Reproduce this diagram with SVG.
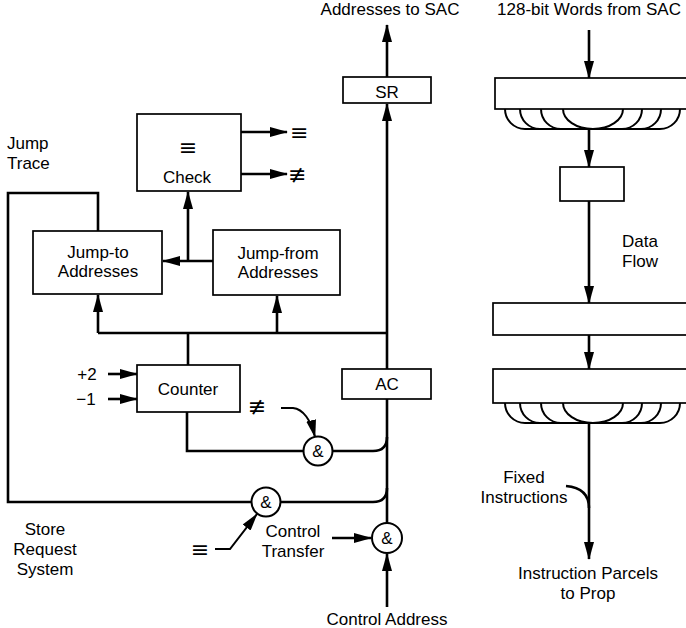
<svg xmlns="http://www.w3.org/2000/svg" width="686" height="628" viewBox="0 0 686 628">
  <style>
    .box { fill: #fff; stroke: #000; stroke-width: 1.7; }
    .wire { fill: none; stroke: #000; stroke-width: 2.6; }
    .thin { fill: none; stroke: #000; stroke-width: 2; }
    .arr { marker-end: url(#ah); }
    .gate { fill: #fff; stroke: #000; stroke-width: 2; }
    text { font-family: "Liberation Sans", Arial, Helvetica, sans-serif; font-size: 17px; fill: #000; }
    .c { text-anchor: middle; }
    .sym { font-family: "DejaVu Sans", sans-serif; font-size: 22px; }
    .amp { font-size: 17px; text-anchor: middle; }
  </style>
  <defs>
    <marker id="ah" markerUnits="userSpaceOnUse" markerWidth="18" markerHeight="10" refX="17" refY="5" orient="auto">
      <path d="M0,0 L18,5 L0,10 z" fill="#000"/>
    </marker>
  </defs>

  <!-- connectors -->
  <g id="connectors">
    <!-- main address path -->
    <line class="wire arr" x1="387" y1="77" x2="387" y2="25"/>
    <line class="wire arr" x1="387" y1="370" x2="387" y2="104"/>
    <line class="wire" x1="387" y1="399" x2="387" y2="523"/>
    <line class="wire arr" x1="387" y1="607" x2="387" y2="554"/>
    <line class="wire arr" x1="332" y1="538" x2="371" y2="538"/>
    <!-- branch to address stacks -->
    <polyline class="wire" points="387,333 98,333"/>
    <line class="wire arr" x1="98" y1="333" x2="98" y2="295"/>
    <line class="wire arr" x1="277" y1="333" x2="277" y2="296"/>
    <line class="wire" x1="188" y1="333" x2="188" y2="365"/>
    <!-- compare path -->
    <line class="wire arr" x1="213" y1="261" x2="163" y2="261"/>
    <line class="wire arr" x1="188" y1="261" x2="188" y2="192"/>
    <line class="wire arr" x1="241" y1="132" x2="287" y2="132"/>
    <line class="wire arr" x1="241" y1="174" x2="287" y2="174"/>
    <!-- counter inputs -->
    <line class="wire arr" x1="108" y1="374" x2="137" y2="374"/>
    <line class="wire arr" x1="108" y1="399" x2="137" y2="399"/>
    <!-- counter output through gate -->
    <polyline class="wire" points="187,412 187,451 303,451"/>
    <path class="wire" d="M332.5,451 H373 Q387,451 387,437"/>
    <path class="thin arr" d="M281,408 H293 C303,409 311,420 315,437"/>
    <!-- jump trace loop -->
    <polyline class="wire" points="98,231 98,193 8,193 8,502 251,502"/>
    <path class="wire" d="M280.5,502 H373 Q387,502 387,488"/>
    <polyline class="thin arr" points="215,549 230,549 257,514"/>
    <!-- data flow column -->
    <line class="wire arr" x1="589" y1="30" x2="589" y2="78"/>
    <line class="wire arr" x1="589" y1="129" x2="589" y2="167"/>
    <line class="wire arr" x1="589" y1="201" x2="589" y2="303"/>
    <line class="wire arr" x1="589" y1="335" x2="589" y2="369"/>
    <line class="wire arr" x1="589" y1="423" x2="589" y2="559"/>
    <path class="wire" d="M566,486 Q589,488 589,508"/>
  </g>

  <!-- address side -->
  <g id="sr">
    <rect class="box" x="343" y="77" width="88" height="26"/>
    <text class="c" x="387" y="98">SR</text>
  </g>
  <g id="ac">
    <rect class="box" x="342" y="369" width="89" height="30"/>
    <text class="c" x="387" y="390">AC</text>
  </g>
  <g id="check">
    <rect class="box" x="137" y="114" width="104" height="77"/>
    <text class="c sym" x="188" y="155">≡</text>
    <text class="c" x="187" y="183">Check</text>
  </g>
  <g id="jump-to">
    <rect class="box" x="33" y="231" width="129" height="63"/>
    <text class="c" x="98" y="258">Jump-to</text>
    <text class="c" x="98" y="277">Addresses</text>
  </g>
  <g id="jump-from">
    <rect class="box" x="213" y="230" width="127" height="65"/>
    <text class="c" x="278" y="259">Jump-from</text>
    <text class="c" x="278" y="278">Addresses</text>
  </g>
  <g id="counter">
    <rect class="box" x="137" y="365" width="103" height="47"/>
    <text class="c" x="188" y="395">Counter</text>
  </g>
  <g id="gate-counter">
    <circle class="gate" cx="318" cy="451" r="14.5"/>
    <text class="amp" x="318" y="457">&amp;</text>
  </g>
  <g id="gate-trace">
    <circle class="gate" cx="266" cy="502" r="14.5"/>
    <text class="amp" x="266" y="508">&amp;</text>
  </g>
  <g id="gate-control">
    <circle class="gate" cx="387" cy="538" r="15"/>
    <text class="amp" x="387" y="544">&amp;</text>
  </g>

  <!-- data side -->
  <g id="word-register">
    <rect class="box" x="495" y="78" width="200" height="31"/>
    <path class="thin" d="M505,109 A20,20 0 0 0 525,129 H660 A20,20 0 0 0 680,109
      M520,109 A20,20 0 0 0 540,129 M541,109 A20,20 0 0 0 561,129
      M563,109 A30,20 0 0 0 623,109
      M642,109 A20,20 0 0 1 622,129 M661,109 A20,20 0 0 1 641,129"/>
  </g>
  <g id="buffer">
    <rect class="box" x="560" y="167" width="64" height="34"/>
  </g>
  <g id="stage-1">
    <rect class="box" x="493" y="303" width="200" height="32"/>
  </g>
  <g id="parcel-register">
    <rect class="box" x="493" y="369" width="200" height="34"/>
    <path class="thin" d="M505,403 A20,20 0 0 0 525,423 H660 A20,20 0 0 0 680,403
      M520,403 A20,20 0 0 0 540,423 M541,403 A20,20 0 0 0 561,423
      M563,403 A30,20 0 0 0 623,403
      M642,403 A20,20 0 0 1 622,423 M661,403 A20,20 0 0 1 641,423"/>
  </g>

  <!-- labels -->
  <g id="labels">
    <text class="c" x="390" y="15">Addresses to SAC</text>
    <text class="c" x="589" y="15">128-bit Words from SAC</text>
    <text x="7" y="149">Jump</text>
    <text x="7" y="169">Trace</text>
    <text class="sym" x="290" y="140">≡</text>
    <text class="sym" x="288" y="182">≢</text>
    <text class="c" x="87" y="380">+2</text>
    <text class="c" x="86" y="405">−1</text>
    <text class="sym c" x="257" y="414">≢</text>
    <text class="sym c" x="200" y="557">≡</text>
    <text class="c" x="45" y="535">Store</text>
    <text class="c" x="45" y="555">Request</text>
    <text class="c" x="45" y="575">System</text>
    <text class="c" x="293" y="537">Control</text>
    <text class="c" x="293" y="557">Transfer</text>
    <text class="c" x="387" y="625">Control Address</text>
    <text class="c" x="640" y="247">Data</text>
    <text class="c" x="640" y="267">Flow</text>
    <text class="c" x="524" y="483">Fixed</text>
    <text class="c" x="524" y="503">Instructions</text>
    <text class="c" x="588" y="579">Instruction Parcels</text>
    <text class="c" x="588" y="599">to Prop</text>
  </g>
</svg>
